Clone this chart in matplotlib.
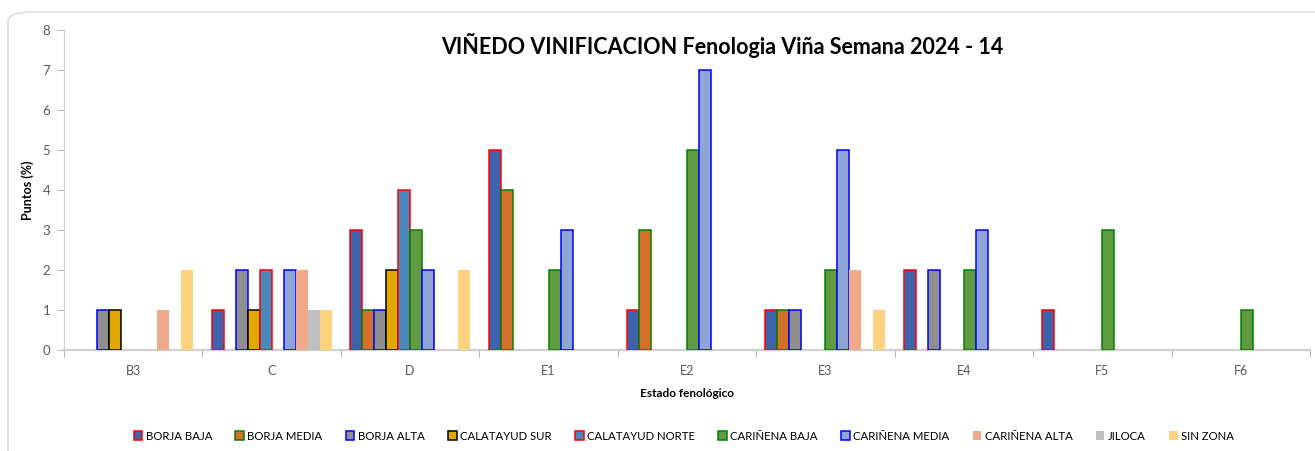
import matplotlib
matplotlib.use('Agg')
import matplotlib.pyplot as plt
import numpy as np
from matplotlib.patches import FancyBboxPatch, Patch

# Categories (estado fenologico)
categories = ['B3', 'C', 'D', 'E1', 'E2', 'E3', 'E4', 'F5', 'F6']

series_names = ['BORJA BAJA', 'BORJA MEDIA', 'BORJA ALTA', 'CALATAYUD SUR',
                'CALATAYUD NORTE', 'CARIÑENA BAJA', 'CARIÑENA MEDIA',
                'CARIÑENA ALTA', 'JILOCA', 'SIN ZONA']

borja_baja = [0, 1, 3, 5, 1, 1, 2, 1, 0]
borja_media = [0, 0, 1, 4, 3, 1, 0, 0, 0]
borja_alta = [1, 2, 1, 0, 0, 1, 2, 0, 0]
calatayud_sur = [1, 1, 2, 0, 0, 0, 0, 0, 0]
calatayud_norte = [0, 2, 4, 0, 0, 0, 0, 0, 0]
carinena_baja = [0, 0, 3, 2, 5, 2, 2, 3, 1]
carinena_media = [0, 2, 2, 3, 7, 5, 3, 0, 0]
carinena_alta = [1, 2, 0, 0, 0, 2, 0, 0, 0]
jiloca = [0, 1, 0, 0, 0, 0, 0, 0, 0]
sin_zona = [2, 1, 2, 0, 0, 1, 0, 0, 0]

values = [borja_baja, borja_media, borja_alta, calatayud_sur, calatayud_norte,
          carinena_baja, carinena_media, carinena_alta, jiloca, sin_zona]

fill_colors = ['#3D63AD', '#D4702B', '#8F8F8F', '#E0A800', '#4A88BE',
               '#629A3F', '#8FA5D6', '#F0A98B', '#BFBFBF', '#FFD280']
edge_colors = ['#FF0000', '#008000', '#0000FF', '#000000', '#FF0000',
               '#008000', '#0000FF', None, None, None]

FONT = ['Lato', 'DejaVu Sans']
plt.rcParams['font.family'] = FONT

fig = plt.figure(figsize=(13.15, 4.51), dpi=100)

# rounded chart frame
frame = FancyBboxPatch((8 / 1315, -0.1), 1.2, 1.1 - 12 / 451,
                       boxstyle='round,pad=0,rounding_size=0.02',
                       transform=fig.transFigure, facecolor='white',
                       edgecolor='#D9D9D9', linewidth=1.0, zorder=-5)
fig.patches.append(frame)

ax = fig.add_axes([64 / 1315, 1 - 350 / 451, 1246 / 1315, 320 / 451])
ax.set_facecolor('none')
ax.set_zorder(2)

x = np.arange(len(categories))
n = len(series_names)
w = 0.0867
for i, (name, vals) in enumerate(zip(series_names, values)):
    offs = (i - (n - 1) / 2) * w
    ec = edge_colors[i] if edge_colors[i] else 'none'
    v = np.array(vals, dtype=float)
    v[v == 0] = np.nan  # empty slots draw nothing
    ax.bar(x + offs, v, width=w, color=fill_colors[i], edgecolor=ec,
           linewidth=1.1, label=name, zorder=3)

ax.set_xlim(-0.5, len(categories) - 0.5)
ax.set_ylim(0, 8)
ax.set_yticks(range(0, 9))
ax.set_xticks(x)
ax.set_xticklabels(categories)
ax.set_xticks(np.arange(-0.5, len(categories)), minor=True)
ax.tick_params(axis='x', which='major', length=0, pad=11, labelsize=9,
               labelcolor='#595959')
ax.tick_params(axis='x', which='minor', length=5, color='#A6A6A6', direction='out')
ax.tick_params(axis='y', length=5, color='#BFBFBF', labelsize=9.5,
               labelcolor='#595959', pad=5)

for s in ['top', 'right']:
    ax.spines[s].set_visible(False)
ax.spines['left'].set_color('#D0D0D0')
ax.spines['bottom'].set_color('#D0D0D0')
ax.spines['bottom'].set_linewidth(1.6)

ax.set_ylabel('Puntos (%)', fontsize=9, fontweight='bold', labelpad=6)
ax.set_xlabel('Estado fenológico', fontsize=8.5, fontweight='bold', labelpad=8)

ax.text(0.528, 0.952, 'VIÑEDO VINIFICACION Fenologia Viña Semana 2024 - 14',
        transform=ax.transAxes, ha='center', va='center', fontsize=15.5,
        fontweight='bold', color='black')

handles = []
for i, name in enumerate(series_names):
    ec = edge_colors[i] if edge_colors[i] else 'none'
    handles.append(Patch(facecolor=fill_colors[i], edgecolor=ec, linewidth=1.1,
                         label=name))
fig.legend(handles=handles, loc='center', bbox_to_anchor=(0.520, 1 - 436 / 451),
           ncol=10, frameon=False, fontsize=8.2, handlelength=0.75,
           handleheight=0.75, handletextpad=0.3, columnspacing=2.05)

plt.savefig('out.png', dpi=100)
